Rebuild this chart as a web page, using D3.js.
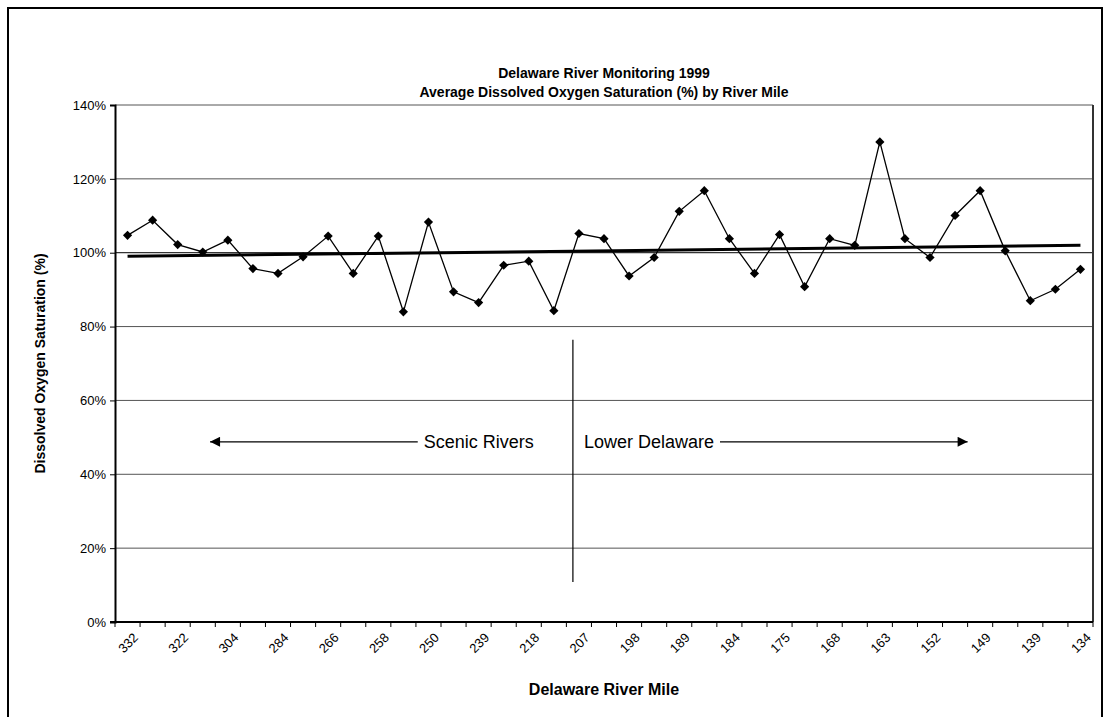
<!DOCTYPE html>
<html><head><meta charset="utf-8">
<script src="https://cdn.jsdelivr.net/npm/d3@7"></script>
<style>
html,body{margin:0;padding:0;background:#fff;}
svg{display:block;font-family:"Liberation Sans",Arial,sans-serif;}
</style></head>
<body><svg id="c" width="1112" height="717"></svg>
<script>
// ---- data ----
const titleLines = ["Delaware River Monitoring 1999", "Average Dissolved Oxygen Saturation (%) by River Mile"];
const riverMileLabels = ["332","322","304","284","266","258","250","239","218","207","198","189","184","175","168","163","152","149","139","134"]; // every other station
const doSaturation = [104.7,108.8,102.2,100.2,103.4,95.7,94.4,98.9,104.5,94.4,104.5,84.0,108.3,89.4,86.5,96.6,97.7,84.3,105.2,103.8,93.7,98.7,111.2,116.8,103.8,94.4,104.9,90.8,103.8,102.0,130.0,103.8,98.7,110.1,116.8,100.5,87.0,90.1,95.5];
const yTicks = [0,20,40,60,80,100,120,140];
const xTitle = "Delaware River Mile";
const yTitle = "Dissolved Oxygen Saturation (%)";
const regionLeft = "Scenic Rivers";
const regionRight = "Lower Delaware";

// ---- layout ----
const svg = d3.select("#c");
const L = 115, R = 1093, T = 105, B = 622;
const n = doSaturation.length;
const idx = d3.range(n);
const x = d3.scaleBand().domain(idx).range([L, R]).paddingInner(0).paddingOuter(0);
const xc = i => x(i) + x.bandwidth() / 2;
const xPos = d3.scaleLinear().domain([0, n]).range([L, R]); // continuous category position
const y = d3.scaleLinear().domain([0, 140]).range([B, T]);

svg.append("rect").attr("x", 0).attr("y", 0).attr("width", 1112).attr("height", 717).attr("fill", "#fff");
// outer border
svg.append("rect").attr("x", 8).attr("y", 8).attr("width", 1094).attr("height", 730)
  .attr("fill", "none").attr("stroke", "#000").attr("stroke-width", 2);

// gridlines
svg.append("g").selectAll("line").data(yTicks.filter(d => d > 0)).join("line")
  .attr("x1", L).attr("x2", R).attr("y1", d => y(d)).attr("y2", d => y(d))
  .attr("stroke", d => d === 100 ? "#000" : "#555").attr("stroke-width", 1);
// right border of plot area
svg.append("line").attr("x1", R).attr("x2", R).attr("y1", T).attr("y2", B).attr("stroke", "#333").attr("stroke-width", 2);

// y axis
const yAxis = d3.axisLeft(y).tickValues(yTicks).tickFormat(d => d + "%").tickSize(5).tickPadding(4);
const gy = svg.append("g").attr("transform", `translate(${L},0)`).call(yAxis);
gy.select(".domain").attr("stroke", "#000").attr("stroke-width", 2);
gy.selectAll(".tick line").attr("stroke", "#000");
gy.selectAll("text").attr("font-size", 13).attr("fill", "#000").attr("font-family", "Liberation Sans, Arial, sans-serif");

// x axis: ticks on category boundaries
const gx = svg.append("g");
gx.append("line").attr("x1", L - 5).attr("x2", R).attr("y1", B).attr("y2", B).attr("stroke", "#000").attr("stroke-width", 2);
gx.selectAll("line.t").data(d3.range(n + 1)).join("line").attr("class", "t")
  .attr("x1", d => xPos(d)).attr("x2", d => xPos(d)).attr("y1", B).attr("y2", B + 5)
  .attr("stroke", "#000");
gx.selectAll("text").data(riverMileLabels).join("text")
  .attr("transform", (d, i) => `translate(${xc(i * 2) + 5},${B + 10}) rotate(-45)`)
  .attr("text-anchor", "end").attr("dy", "0.7em").attr("font-size", 13).text(d => d);

// titles
const cx = (L + R) / 2;
svg.append("text").attr("x", cx).attr("y", 78).attr("text-anchor", "middle")
  .attr("font-size", 14).attr("font-weight", "bold").text(titleLines[0]);
svg.append("text").attr("x", cx).attr("y", 97).attr("text-anchor", "middle")
  .attr("font-size", 14).attr("font-weight", "bold").text(titleLines[1]);
svg.append("text").attr("x", cx).attr("y", 695).attr("text-anchor", "middle")
  .attr("font-size", 16).attr("font-weight", "bold").text(xTitle);
svg.append("text").attr("transform", `translate(45,${(T + B) / 2}) rotate(-90)`).attr("text-anchor", "middle")
  .attr("font-size", 14).attr("font-weight", "bold").text(yTitle);

// region annotations
svg.append("defs").html(`<marker id="ah" viewBox="0 0 10 10" refX="10" refY="5" markerWidth="12" markerHeight="10" markerUnits="userSpaceOnUse" orient="auto-start-reverse"><path d="M0,0L10,5L0,10Z" fill="#000"/></marker>`);
const divPos = 18.26;
svg.append("line").attr("x1", xPos(divPos)).attr("x2", xPos(divPos)).attr("y1", y(76.4)).attr("y2", y(10.8))
  .attr("stroke", "#000").attr("stroke-width", 1.2);
const annY = y(48.8);
const tL = svg.append("text").attr("x", xPos(16.7)).attr("y", annY).attr("dy", "0.35em").attr("text-anchor", "end")
  .attr("font-size", 18).text(regionLeft);
const tR = svg.append("text").attr("x", xPos(18.7)).attr("y", annY).attr("dy", "0.35em").attr("text-anchor", "start")
  .attr("font-size", 18).text(regionRight);
const wL = tL.node().getComputedTextLength(), wR = tR.node().getComputedTextLength();
svg.append("line").attr("x1", xPos(16.7) - wL - 6).attr("x2", xPos(3.79)).attr("y1", annY).attr("y2", annY)
  .attr("stroke", "#000").attr("stroke-width", 1.2).attr("marker-end", "url(#ah)");
svg.append("line").attr("x1", xPos(18.7) + wR + 6).attr("x2", xPos(34.0)).attr("y1", annY).attr("y2", annY)
  .attr("stroke", "#000").attr("stroke-width", 1.2).attr("marker-end", "url(#ah)");

// trend line (least squares over station index)
const mx = d3.mean(idx), my = d3.mean(doSaturation);
const slope = d3.sum(idx, i => (i - mx) * (doSaturation[i] - my)) / d3.sum(idx, i => (i - mx) ** 2);
const icpt = my - slope * mx;
svg.append("line").attr("x1", xc(0)).attr("x2", xc(n - 1))
  .attr("y1", y(icpt)).attr("y2", y(icpt + slope * (n - 1)))
  .attr("stroke", "#000").attr("stroke-width", 3);

// data line + markers
svg.append("path").datum(doSaturation)
  .attr("d", d3.line().x((d, i) => xc(i)).y(d => y(d)))
  .attr("fill", "none").attr("stroke", "#000").attr("stroke-width", 1.3);
svg.append("g").selectAll("path").data(doSaturation).join("path")
  .attr("transform", (d, i) => `translate(${xc(i)},${y(d)})`)
  .attr("d", "M0,-4.6L4.6,0L0,4.6L-4.6,0Z").attr("fill", "#000");
</script></body></html>
